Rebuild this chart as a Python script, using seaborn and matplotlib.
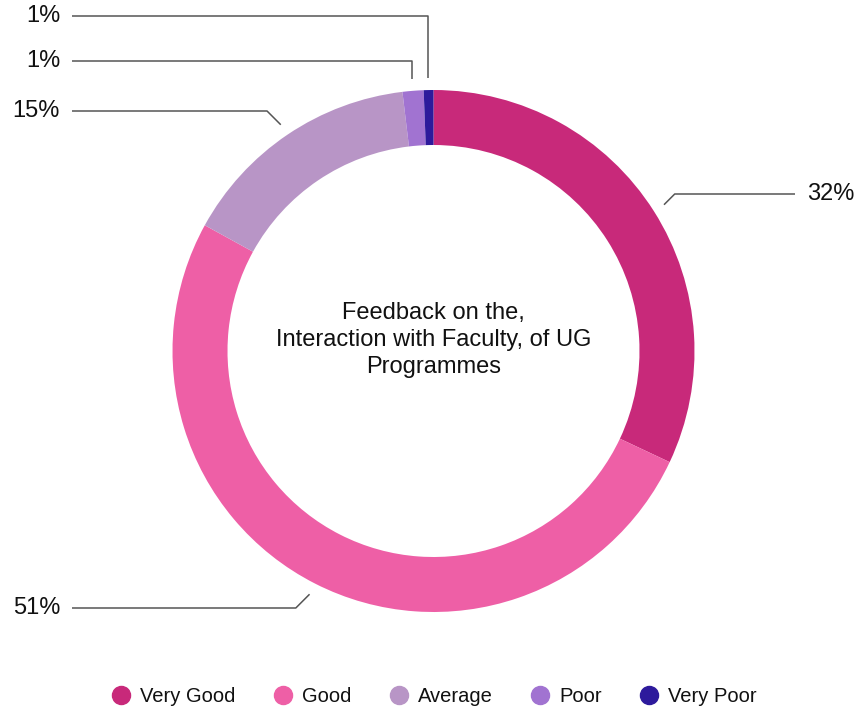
import numpy as np
import matplotlib
matplotlib.use('Agg')
import matplotlib.pyplot as plt
from matplotlib.lines import Line2D
import seaborn as sns

# data
categories = ['Very Good', 'Good', 'Average', 'Poor', 'Very Poor']
shares = [32.0, 51.0, 15.1, 1.3, 0.6]
colors = ['#C8297A', '#EE5FA6', '#B895C6', '#A173D1', '#2D1A9C']
center_title = 'Feedback on the,\nInteraction with Faculty, of UG\nProgrammes'

sns.set_theme(style='white')
plt.rcParams['font.family'] = ['Liberation Sans', 'DejaVu Sans']

W, H = 855, 709
fig = plt.figure(figsize=(W / 100, H / 100), dpi=100)
ax = fig.add_axes([0, 0, 1, 1])
ax.set_aspect('equal')

cx, cy, R = 433.5, H - 351, 261
wedges, _ = ax.pie(shares, colors=colors, startangle=90, counterclock=False,
                   radius=R, center=(cx, cy), frame=True,
                   wedgeprops=dict(width=55, linewidth=0))
ax.set_xlim(0, W); ax.set_ylim(0, H); ax.axis('off')

# leader lines: bend height (pixel y from top) and style per slice
bend_y = [194, 608, 111, 61, 16]
vertical = [False, False, False, True, True]
line_col = '#555555'
for w, val, by, vert in zip(wedges, shares, bend_y, vertical):
    mid = np.deg2rad((w.theta1 + w.theta2) / 2)
    sx = cx + (R + 12) * np.cos(mid)
    sy = cy + (R + 12) * np.sin(mid)
    ey = H - by
    right = np.cos(mid) > 0 and not vert
    if vert:
        ex = sx
    else:
        ex = sx + (1 if right else -1) * abs(ey - sy)
    endx = 795 if right else 72
    ax.plot([sx, ex, endx], [sy, ey, ey], color=line_col, lw=1.1,
            solid_capstyle='butt')
    if right:
        ax.text(807, ey, f'{val:.0f}%', ha='left', va='center', fontsize=17, color='#111111')
    else:
        ax.text(60, ey, f'{val:.0f}%', ha='right', va='center', fontsize=17, color='#111111')

ax.text(cx, H - 340, center_title, ha='center', va='center', fontsize=17,
        color='#111111', linespacing=1.3)

handles = [Line2D([], [], marker='o', linestyle='', markersize=13,
                  markerfacecolor=c, markeredgecolor=c) for c in colors]
fig.legend(handles, categories, loc='center', bbox_to_anchor=(434 / W, 1 - 697 / H),
           ncol=5, frameon=False, fontsize=14.5, handletextpad=0.45,
           columnspacing=1.85, handlelength=1.0, labelcolor='#111111')

fig.savefig('out.png', dpi=100)
